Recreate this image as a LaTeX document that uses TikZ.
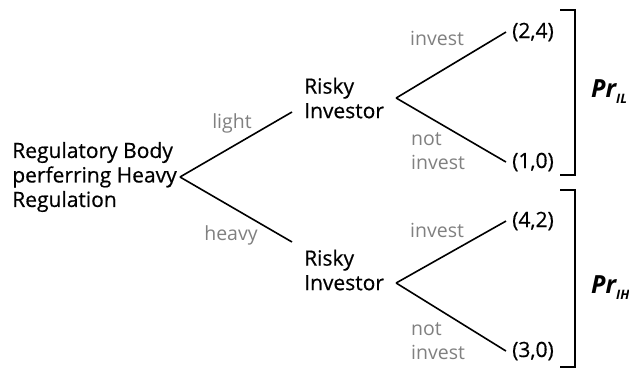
\documentclass[tikz,border=0pt]{standalone}
\usepackage{fontspec}
\setmainfont{Open Sans}
\newfontfamily\mainfont[FakeBold=0.5]{Open Sans}
\usetikzlibrary{positioning}

\begin{document}
\begin{tikzpicture}[x=1pt,y=-1pt]
  \tikzset{TXT/.style={align=left, inner sep=0pt, text=black, font=\mainfont\fontsize{21}{24.5}\selectfont} }
  \tikzset{LBL/.style={align=left, inner sep=0pt, text=black!50, font=\fontsize{19.5}{23.5}\selectfont} }
  \tikzset{PAY/.style={anchor=base west, inner xsep=6pt, inner ysep=0pt, text=black, font=\mainfont\fontsize{21}{24}\selectfont} }
  \tikzset{PRB/.style={anchor=base west, inner sep=0pt, text=black} }
  \tikzset{EDG/.style={-, line width=1.6pt} }
  \useasboundingbox (0,0) rectangle (629,370);

  % decision makers
  \node[TXT, anchor=east, inner xsep=3pt] (reg) at (180,177) {Regulatory Body\\perferring Heavy\\Regulation};
  \node[TXT, anchor=west, inner xsep=12pt] (ri1) at (292,98) {Risky\\Investor};
  \node[TXT, anchor=west, inner xsep=12pt] (ri2) at (292,270) {Risky\\Investor};

  % payoffs
  \node[PAY] (p24) at (506,38) {(2,4)};
  \node[PAY] (p10) at (506,168) {(1,0)};
  \node[PAY] (p42) at (506,227) {(4,2)};
  \node[PAY] (p30) at (506,357) {(3,0)};

  % branch labels
  \node[LBL, anchor=base] (light) at (232,128) {light};
  \node[LBL, anchor=base] (heavy) at (231,240) {heavy};
  \node[LBL, anchor=base west] (inv1) at (410,45) {invest};
  \node[LBL, anchor=west] (ninv1) at (411,151) {not\\invest};
  \node[LBL, anchor=base west] (inv2) at (410,237) {invest};
  \node[LBL, anchor=west] (ninv2) at (411,341) {not\\invest};

  \draw[EDG] (reg.east) -- ([yshift=-14pt]ri1.west);
  \draw[EDG] (reg.east) -- ([yshift=28pt]ri2.west);

  \draw[EDG] (ri1.east) -- (p24.west);
  \draw[EDG] (ri1.east) -- (p10.west);
  \draw[EDG] ([yshift=-13pt]ri2.east) -- (p42.west);
  \draw[EDG] ([yshift=-13pt]ri2.east) -- (p30.west);

  % probability brackets
  \draw[EDG] (560,10) -| (575,175) -- (560,175);
  \draw[EDG] (560,190) -| (575,367) -- (560,367);

  \node[PRB] (prl) at (591,97) {{\fontsize{25}{25}\selectfont\bfseries\itshape Pr}{\fontsize{13}{13}\selectfont\bfseries\itshape\raisebox{-6pt}{IL}}};
  \node[PRB] (prh) at (591,293) {{\fontsize{25}{25}\selectfont\bfseries\itshape Pr}{\fontsize{13}{13}\selectfont\bfseries\itshape\raisebox{-6pt}{IH}}};
\end{tikzpicture}
\end{document}
